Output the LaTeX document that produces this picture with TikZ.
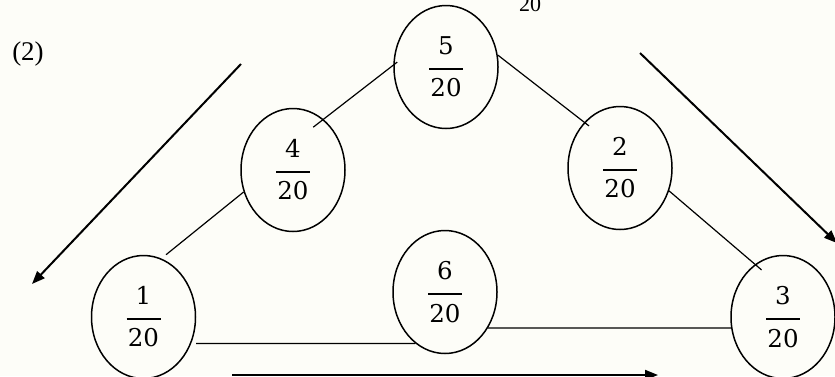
\documentclass[tikz,border=0pt]{standalone}
\usepackage{fontspec}
\usetikzlibrary{shapes.geometric,arrows.meta}
\newfontfamily\timesfont{Liberation Serif}
\newfontfamily\digitfont{DejaVu Serif}
\definecolor{paper}{RGB}{253,253,248}
% stacked fraction: numerator, bar, denominator
\newcommand\frc[2]{\vbox{\offinterlineskip\halign{\hfil##\hfil\cr#1\cr\noalign{\kern13pt}\vrule width34pt height1.8pt depth0pt\cr\noalign{\kern9pt}#2\cr}}}
\tikzset{
  prob/.style={draw, line width=1.5pt, ellipse, inner sep=0pt,
    minimum width=104pt, minimum height=123pt,
    font=\digitfont\fontsize{24.5}{28}\selectfont},
  link/.style={line width=1.2pt},
  flow/.style={line width=2pt, -{Triangle[length=13pt,width=10pt]}},
  plain/.style={font=\timesfont\fontsize{27}{30}\selectfont, inner sep=0pt}
}
\begin{document}
\begin{tikzpicture}[x=1pt,y=-1pt]
  \fill[paper] (0,0) rectangle (835,376);
  \useasboundingbox (0,0) rectangle (835,376);

  % probability nodes
  \node[prob] (n5) at (446,67)  {\frc{5}{20}};
  \node[prob] (n4) at (293,170) {\frc{4}{20}};
  \node[prob] (n2) at (620,168) {\frc{2}{20}};
  \node[prob] (n1) at (143.5,317) {\frc{1}{20}};
  \node[prob] (n6) at (445,292) {\frc{6}{20}};
  \node[prob] (n3) at (783,317) {\frc{3}{20}};

  % labels
  \node[plain, anchor=base] (lab) at (28,60) {(2)};
  \node[font=\timesfont\fontsize{22}{24}\selectfont, inner sep=0pt, anchor=base] (sub) at (530,11) {20};

  % connections between nodes
  \draw[link, shorten <=-13pt, shorten >=-5pt] (n4.59) -- (n5.178);
  \draw[link, shorten >=-6pt] (n5.13) -- (n2.128);
  \draw[link, shorten >=-8.7pt] (n2.-25) -- (n3.118);
  \draw[link, shorten >=6pt] (n4.204) -- (n1.73);
  \draw[link, shorten <=5pt] (n1.-29) -- (n6.240);
  \draw[link] (n6.-40.4) -- (n3.192.1);

  % direction arrows
  \coordinate (aL1) at (241,64);
  \coordinate (aL2) at (32,284);
  \coordinate (aR1) at (640,53);
  \coordinate (aR2) at (837,243);
  \coordinate (aB1) at (232,375);
  \coordinate (aB2) at (658,375);
  \draw[flow] (aL1) -- (aL2);
  \draw[flow] (aR1) -- (aR2);
  \draw[flow] (aB1) -- (aB2);
\end{tikzpicture}
\end{document}
